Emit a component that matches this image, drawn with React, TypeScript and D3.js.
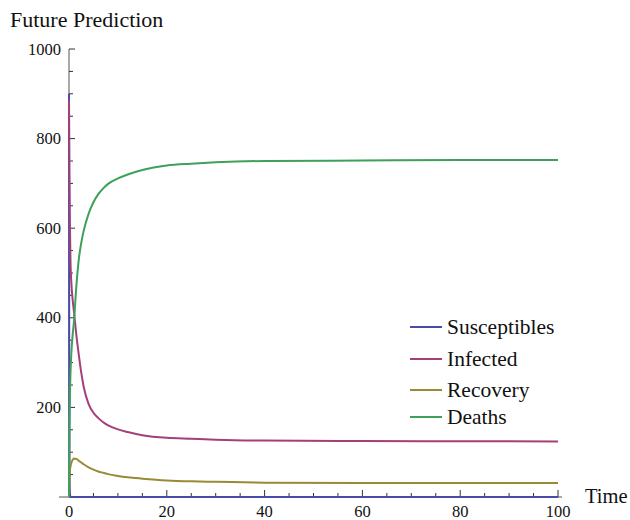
import React from "react";
import * as d3 from "d3";

const time = [0, 0.05, 0.1, 0.2, 0.3, 0.5, 0.75, 1, 1.5, 2, 2.5, 3, 4, 5, 6, 7, 8, 10, 12, 15, 20, 25, 30, 40, 60, 80, 100];
const susceptibles = [900, 220, 50, 6, 1, 0, 0, 0, 0, 0, 0, 0, 0, 0, 0, 0, 0, 0, 0, 0, 0, 0, 0, 0, 0, 0, 0];
const infected = [885, 800, 720, 600, 530, 475, 440, 415, 362, 318, 278, 246, 208, 188, 176, 167, 160, 151, 145, 138, 132, 130, 128, 126, 125, 124.5, 124];
const recovery = [0, 25, 42, 60, 68, 77, 83, 86, 85, 81, 77, 73, 66, 61, 57, 54, 51, 47, 44, 41, 37, 35, 34, 32, 31, 31, 31];
const deaths = [0, 70, 140, 230, 275, 325, 362, 390, 470, 530, 567, 594, 632, 658, 676, 689, 699, 711, 720, 730, 740, 744, 747, 750, 751, 752, 752];

const seriesNames = ["Susceptibles", "Infected", "Recovery", "Deaths"];
const seriesValues = [susceptibles, infected, recovery, deaths];
const colors = ["#4a4aab", "#a3407a", "#9a8a38", "#3ea05a"];

const xMajor = [0, 20, 40, 60, 80, 100];
const yMajor = [0, 200, 400, 600, 800, 1000];

const serif = "Liberation Serif, DejaVu Serif, Times New Roman, serif";

export default function App() {
  const x = d3.scaleLinear().domain([0, 100]).range([69, 558]);
  const y = d3.scaleLinear().domain([0, 1000]).range([497, 49]);
  const line = d3
    .line<[number, number]>()
    .x((d) => x(d[0]))
    .y((d) => y(d[1]))
    .curve(d3.curveMonotoneX);

  const xMinor = d3.range(0, 101, 5).filter((v) => v % 20 !== 0);
  const yMinor = d3.range(0, 1001, 50).filter((v) => v % 200 !== 0);
  const legendY = [327, 359, 390, 417];
  const ts = { fontFamily: serif };

  return (
    <svg
      width={630}
      height={520}
      style={{ position: "absolute", left: 0, top: 0, background: "#fff" }}
    >
      <text x={10} y={27} fontSize={22} fill="#111" style={ts}>Future Prediction</text>
      {/* axes */}
      <line x1={59} x2={562} y1={y(0)} y2={y(0)} stroke="#555" strokeWidth={1} />
      <line x1={x(0)} x2={x(0)} y1={y(0)} y2={y(1000)} stroke="#555" strokeWidth={1} />
      {xMajor.map((v) => (
        <g key={"xm" + v}>
          <line x1={x(v)} x2={x(v)} y1={y(0)} y2={y(0) - 7} stroke="#333" />
          <text x={x(v)} y={517} fontSize={16.5} textAnchor="middle" fill="#111" style={ts}>{v}</text>
        </g>
      ))}
      {xMinor.map((v) => (
        <line key={"xn" + v} x1={x(v)} x2={x(v)} y1={y(0)} y2={y(0) - 4} stroke="#333" />
      ))}
      {yMajor.map((v) => (
        <g key={"ym" + v}>
          <line x1={x(0)} x2={x(0) + 6} y1={y(v)} y2={y(v)} stroke="#333" />
          {v !== 0 && (
            <text x={61} y={y(v) + 5.5} fontSize={16.5} textAnchor="end" fill="#111" style={ts}>{v}</text>
          )}
        </g>
      ))}
      {yMinor.map((v) => (
        <line key={"yn" + v} x1={x(0)} x2={x(0) + 4} y1={y(v)} y2={y(v)} stroke="#333" />
      ))}
      <text x={585} y={503} fontSize={20.5} fill="#111" style={ts}>Time</text>
      {/* curves */}
      {seriesValues.map((vals, i) => (
        <path
          key={seriesNames[i]}
          d={line(time.map((t, j) => [t, vals[j]] as [number, number])) || ""}
          fill="none"
          stroke={colors[i]}
          strokeWidth={2}
        />
      ))}
      {/* legend */}
      {seriesNames.map((name, i) => (
        <g key={"lg" + name}>
          <line x1={410} x2={442} y1={legendY[i]} y2={legendY[i]} stroke={colors[i]} strokeWidth={2} />
          <text x={447} y={legendY[i] + 7} fontSize={21.5} fill="#111" style={ts}>{name}</text>
        </g>
      ))}
    </svg>
  );
}
